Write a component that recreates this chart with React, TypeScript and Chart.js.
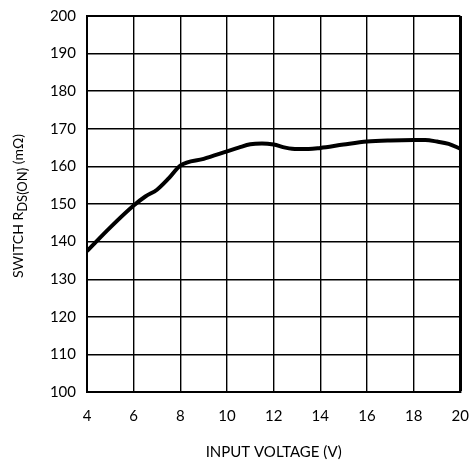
import React, { useEffect, useRef } from 'react';
import { Chart, registerables } from 'chart.js';

Chart.register(...registerables);

const FONT = 'Lato, "Open Sans", sans-serif';

// input voltage (V) and switch on-resistance (mOhm)
const inputVoltage = [4, 5, 6, 6.5, 7, 7.5, 8, 9, 10, 10.5, 11, 11.5, 12, 12.5, 13, 13.5, 14, 15, 16, 17, 18, 18.5, 19, 19.5, 20];
const rdsOn = [137.5, 143.8, 149.6, 152.0, 153.8, 156.8, 160.2, 162.0, 164.0, 165.0, 165.9, 166.1, 165.8, 165.0, 164.6, 164.6, 164.9, 165.8, 166.6, 166.9, 167.0, 167.0, 166.6, 166.0, 164.7];

const xTitle = 'INPUT VOLTAGE (V)';
const yTitleParts = ['SWITCH R', 'DS(ON)', ' (mΩ)'];

const axisTitles = {
  id: 'axisTitles',
  afterDraw(chart: Chart) {
    const { ctx, chartArea } = chart;
    ctx.save();
    ctx.fillStyle = '#000';

    // x title
    ctx.font = `15px ${FONT}`;
    ctx.textAlign = 'center';
    ctx.textBaseline = 'middle';
    ctx.fillText(xTitle, (chartArea.left + chartArea.right) / 2, chart.height - 12);

    // y title with subscript, rotated
    const mainFont = `14px ${FONT}`;
    const subFont = `13px ${FONT}`;
    ctx.font = mainFont;
    const w1 = ctx.measureText(yTitleParts[0]).width;
    const w3 = ctx.measureText(yTitleParts[2]).width;
    ctx.font = subFont;
    const w2 = ctx.measureText(yTitleParts[1]).width;
    const total = w1 + w2 + w3;

    ctx.translate(23, (chartArea.top + chartArea.bottom) / 2 + 2);
    ctx.rotate(-Math.PI / 2);
    ctx.textAlign = 'left';
    ctx.textBaseline = 'alphabetic';
    let u = -total / 2;
    ctx.font = mainFont;
    ctx.fillText(yTitleParts[0], u, 0);
    u += w1;
    ctx.font = subFont;
    ctx.fillText(yTitleParts[1], u, 4);
    u += w2;
    ctx.font = mainFont;
    ctx.fillText(yTitleParts[2], u, 0);
    ctx.restore();
  },
};

export default function App() {
  const chartRef = useRef<HTMLCanvasElement>(null);
  const chartInstance = useRef<Chart | null>(null);

  useEffect(() => {
    document.body.style.margin = '0';
    if (!chartRef.current) return;
    if (chartInstance.current) chartInstance.current.destroy();

    const ctx = chartRef.current.getContext('2d');
    if (!ctx) return;

    chartInstance.current = new Chart(ctx, {
      type: 'line',
      data: {
        datasets: [
          {
            data: inputVoltage.map((v, i) => ({ x: v, y: rdsOn[i] })),
            borderColor: '#000',
            borderWidth: 4,
            pointRadius: 0,
            cubicInterpolationMode: 'monotone',
            fill: false,
          },
        ],
      },
      options: {
        animation: false,
        responsive: true,
        maintainAspectRatio: false,
        layout: { padding: { top: 16, right: 0, left: 0, bottom: 0 } },
        plugins: {
          legend: { display: false },
          tooltip: { enabled: false },
        },
        scales: {
          x: {
            type: 'linear',
            min: 4,
            max: 20,
            ticks: {
              stepSize: 2,
              padding: 2,
              color: '#000',
              font: { family: FONT, size: 15 },
            },
            grid: {
              color: '#000',
              lineWidth: (c: any) => (c.index === 8 ? 3 : 1.4),
              drawTicks: true,
              tickLength: 13,
              tickColor: 'rgba(0,0,0,0)',
            },
            border: { color: '#000', width: 2 },
            afterFit: (scale: any) => {
              scale.height = 72;
            },
          },
          y: {
            min: 100,
            max: 200,
            ticks: {
              stepSize: 10,
              padding: 2,
              color: '#000',
              font: { family: FONT, size: 15 },
            },
            grid: {
              color: '#000',
              lineWidth: (c: any) => (c.index === 10 ? 2 : 1.4),
              drawTicks: true,
              tickLength: 9,
              tickColor: 'rgba(0,0,0,0)',
            },
            border: { color: '#000', width: 2 },
            afterFit: (scale: any) => {
              scale.width = 87;
            },
          },
        },
      },
      plugins: [axisTitles],
    });

    return () => {
      if (chartInstance.current) {
        chartInstance.current.destroy();
        chartInstance.current = null;
      }
    };
  }, []);

  return (
    <div style={{ position: 'relative', width: 471, height: 464 }}>
      <canvas ref={chartRef} />
    </div>
  );
}
